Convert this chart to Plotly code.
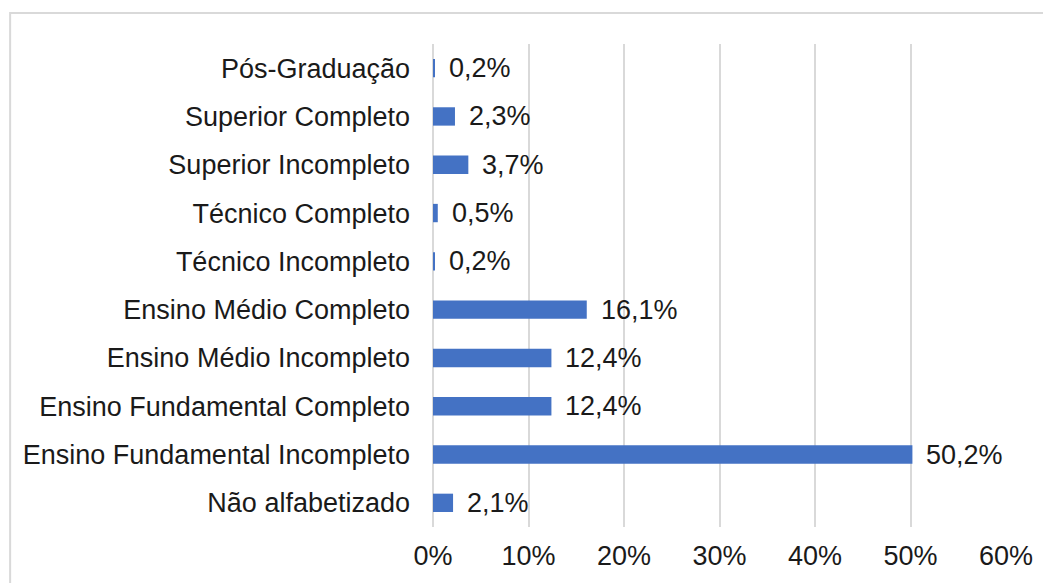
import plotly.graph_objects as go

categorias = ["Não alfabetizado", "Ensino Fundamental Incompleto", "Ensino Fundamental Completo",
              "Ensino Médio Incompleto", "Ensino Médio Completo", "Técnico Incompleto",
              "Técnico Completo", "Superior Incompleto", "Superior Completo", "Pós-Graduação"]
percentuais = [2.1, 50.2, 12.4, 12.4, 16.1, 0.2, 0.5, 3.7, 2.3, 0.2]
ticks = [0, 10, 20, 30, 40, 50, 60]

fig = go.Figure(go.Bar(x=percentuais, y=categorias, orientation="h",
                       marker=dict(color="#4472C4", line=dict(width=0)),
                       width=0.38))

# rótulos de valor com vírgula decimal
for c, v in zip(categorias, percentuais):
    fig.add_annotation(x=v, y=c, text=f"{v:.1f}".replace(".", ",") + "%",
                       showarrow=False, xanchor="left", xshift=12,
                       font=dict(size=27, color="#1a1a1a"))

# moldura cortada (só topo e esquerda aparecem)
fig.add_shape(type="rect", xref="paper", yref="paper", x0=-0.738, x1=1.3, y0=-0.3, y1=1.064,
              line=dict(color="#d9d9d9", width=2), layer="below")

fig.update_layout(
    width=1043, height=575,
    margin=dict(l=425, r=45, t=36, b=56),
    paper_bgcolor="white", plot_bgcolor="white",
    font=dict(family="Liberation Sans, Arial, sans-serif", size=27, color="#1a1a1a"),
    showlegend=False,
    bargap=0.62,
)
fig.update_xaxes(range=[0, 60], tickvals=ticks, ticktext=[f"{t}%" for t in ticks],
                 tickfont=dict(size=27),
                 showgrid=True, gridcolor="#d9d9d9", gridwidth=2, zeroline=True,
                 zerolinecolor="#d9d9d9", zerolinewidth=2, showline=False, ticks="",
                 ticklabelstandoff=10)
fig.update_yaxes(categoryorder="array", categoryarray=categorias, showgrid=False,
                 ticks="", ticklabelstandoff=22, showline=False)

fig.write_html("out.html")
